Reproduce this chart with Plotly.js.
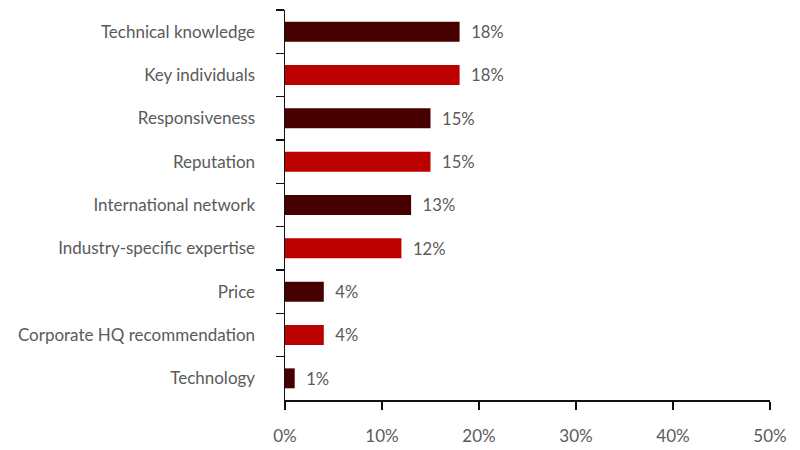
<!DOCTYPE html>
<html>
<head>
<meta charset="utf-8">
<script src="https://cdn.plot.ly/plotly-3.0.1.min.js"></script>
<style>html,body{margin:0;padding:0;background:#fff;}#chart{width:800px;height:450px;}</style>
</head>
<body>
<div id="chart"></div>
<script>
const categories = ["Technical knowledge", "Key individuals", "Responsiveness", "Reputation", "International network", "Industry-specific expertise", "Price", "Corporate HQ recommendation", "Technology"];
const values = [18, 18, 15, 15, 13, 12, 4, 4, 1];
const barColors = ["#470000", "#bb0000", "#470000", "#bb0000", "#470000", "#bb0000", "#470000", "#bb0000", "#470000"];
const xTickVals = [0, 10, 20, 30, 40, 50];
const xTickText = ["0%", "10%", "20%", "30%", "40%", "50%"];

const font = "Lato, 'Open Sans', sans-serif";

const trace = {
  type: "bar",
  orientation: "h",
  y: categories,
  x: values,
  marker: {color: barColors, line: {width: 0}},
  texttemplate: "\u00a0\u00a0%{x}%",
  textposition: "outside",
  textfont: {family: font, size: 17.5, color: "#5a5a5a"},
  cliponaxis: false,
  hoverinfo: "none"
};

const layout = {
  width: 800, height: 450,
  margin: {l: 285, r: 30, t: 10, b: 50},
  paper_bgcolor: "#ffffff",
  plot_bgcolor: "#ffffff",
  showlegend: false,
  bargap: 0.54,
  font: {family: font, size: 17, color: "#5a5a5a"},
  xaxis: {
    range: [0, 50],
    tickvals: xTickVals,
    ticktext: xTickText,
    showgrid: false,
    zeroline: false,
    showline: true,
    linecolor: "#111111",
    linewidth: 1.5,
    ticks: "outside",
    ticklen: 8,
    tickwidth: 1.5,
    tickcolor: "#111111",
    ticklabelstandoff: 12,
    tickfont: {family: font, size: 17, color: "#5a5a5a"},
    fixedrange: true
  },
  yaxis: {
    autorange: "reversed",
    type: "category",
    showgrid: false,
    zeroline: false,
    showline: true,
    linecolor: "#111111",
    linewidth: 1.5,
    ticks: "outside",
    tickson: "boundaries",
    ticklen: 8,
    tickwidth: 1.5,
    tickcolor: "#111111",
    ticklabelstandoff: 25,
    tickfont: {family: font, size: 17, color: "#5a5a5a"},
    fixedrange: true
  }
};

Plotly.newPlot("chart", [trace], layout, {displayModeBar: false, staticPlot: true});
</script>
</body>
</html>
